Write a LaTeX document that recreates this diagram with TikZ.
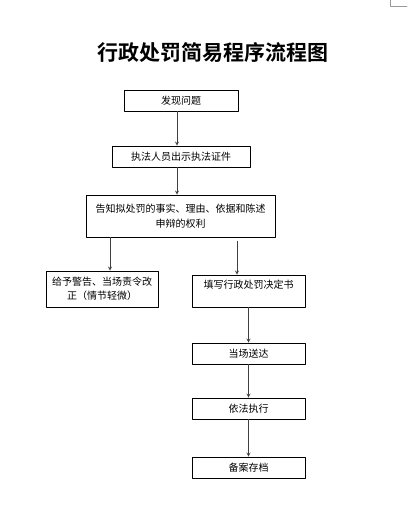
\documentclass[tikz,border=0pt]{standalone}
\usepackage{fontspec}
\setmainfont{Noto Sans CJK SC}
\newfontfamily\titlefont{Noto Sans CJK SC Bold}
\tikzset{
  box/.style={draw, thick, rectangle, align=center, inner sep=2pt, font=\fontsize{10}{14.5}\selectfont},
  arr/.style={->, draw=black!75, line width=0.8pt}
}
\begin{document}
\begin{tikzpicture}[x=1pt, y=-1pt, line join=round, line cap=round, >=stealth]
\useasboundingbox (0,0) rectangle (407,529);

\node[font=\titlefont\fontsize{21}{23}\selectfont] (title) at (213,53) {行政处罚简易程序流程图};

\node[box, minimum width=114pt, minimum height=21pt] (find) at (181,100.5) {发现问题};
\node[box, minimum width=138pt, minimum height=21pt] (show) at (181,156.5) {执法人员出示执法证件};
\node[box, minimum width=189pt, minimum height=42pt] (tell) at (180.5,216) {告知拟处罚的事实、理由、依据和陈述\\申辩的权利};
\node[box, minimum width=112pt, minimum height=36pt] (warn) at (102,289) {给予警告、当场责令改\\正（情节轻微）};
\node[box, minimum width=113pt, text height=10pt, text depth=16pt, inner ysep=3pt] (fill) at (248.5,291) {填写行政处罚决定书};
\node[box, minimum width=113pt, minimum height=21pt] (send) at (248.5,353.5) {当场送达};
\node[box, minimum width=113pt, minimum height=21pt] (exec) at (248.5,408.5) {依法执行};
\node[box, minimum width=113pt, minimum height=21pt] (file) at (248.5,467.5) {备案存档};

\coordinate (lx) at (110,0);
\coordinate (rx) at (237,0);

\draw[arr] ([xshift=-4pt]find.south) -- ([xshift=-4pt]find.south |- show.north);
\draw[arr] ([xshift=-4pt]show.south) -- ([xshift=-4pt]show.south |- tell.north);
\draw[arr] (lx |- tell.south) -- (lx |- warn.north);
\draw[arr] ([yshift=-4pt]rx |- tell.south) -- (rx |- fill.north);
\draw[arr] (fill.south) -- (send.north);
\draw[arr] (send.south) -- (exec.north);
\draw[arr] (exec.south) -- (file.north);

% page corner mark
\draw[black!40, line width=0.6pt] (390,0) -- (390,6) -- (407,6);
\end{tikzpicture}
\end{document}
